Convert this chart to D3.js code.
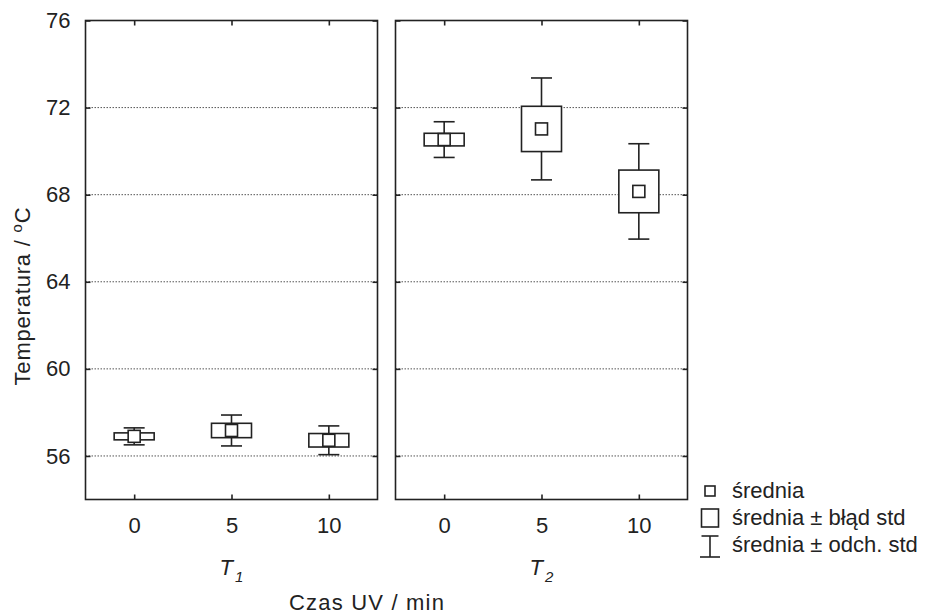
<!DOCTYPE html>
<html>
<head>
<meta charset="utf-8">
<script src="https://cdn.jsdelivr.net/npm/d3@7"></script>
<style>
    body { margin: 0; background: #fff; }
    text { font-family: "Liberation Sans", Arial, sans-serif; fill: #222; }
</style>
</head>
<body>
<script>
(function(){

//data
var groups = ["1", "2"];                //T1, T2 panels
var times = ["0", "5", "10"];           //Czas UV / min
var meanT1 = [56.90, 57.17, 56.72];
var seT1 = [0.16, 0.33, 0.31];
var sdT1 = [0.39, 0.71, 0.66];
var meanT2 = [70.53, 71.02, 68.15];
var seT2 = [0.29, 1.04, 0.98];
var sdT2 = [0.82, 2.34, 2.19];
var yTicks = [56, 60, 64, 68, 72, 76];
var legendLabels = ["średnia", "średnia \u00B1 błąd std", "średnia \u00B1 odch. std"];

window.onload = setChart();

function setChart(){

    var width = 929,
        height = 616;

    //panel frame
    var top = 20.5,
        bottom = 499.5,
        panelW = 292,
        panelX = [85.5, 395.5];

    var ink = "#222";

    var svg = d3.select("body")
        .append("svg")
        .attr("width", width)
        .attr("height", height);

    var y = d3.scaleLinear()
        .domain([54, 76])
        .range([bottom, top]);

    var x = d3.scalePoint()
        .domain(times)
        .range([0, panelW])
        .padding(0.5);

    var panelData = [
        {name: groups[0], mean: meanT1, se: seT1, sd: sdT1},
        {name: groups[1], mean: meanT2, se: seT2, sd: sdT2}
    ];

    panelData.forEach(function(p, i){
        var g = svg.append("g")
            .attr("transform", "translate(" + panelX[i] + ",0)");

        //dotted grid
        g.selectAll(".grid")
            .data(yTicks.filter(function(v){ return v < 76; }))
            .enter()
            .append("line")
            .attr("class", "grid")
            .attr("x1", 0)
            .attr("x2", panelW)
            .attr("y1", function(d){ return y(d); })
            .attr("y2", function(d){ return y(d); })
            .attr("stroke", "#555")
            .attr("stroke-width", 1)
            .attr("stroke-dasharray", "1.5,1.5");

        //axes with inward ticks
        var bottomAxis = g.append("g")
            .attr("transform", "translate(0," + bottom + ")")
            .call(d3.axisBottom(x).tickSize(-5).tickPadding(18));
        var topAxis = g.append("g")
            .attr("transform", "translate(0," + top + ")")
            .call(d3.axisTop(x).tickSize(-5).tickFormat(""));
        var leftAxis = g.append("g")
            .call(d3.axisLeft(y).tickValues(yTicks).tickSize(-5).tickPadding(15));
        var rightAxis = g.append("g")
            .attr("transform", "translate(" + panelW + ",0)")
            .call(d3.axisRight(y).tickValues(yTicks).tickSize(-5).tickFormat(""));

        [bottomAxis, topAxis, leftAxis, rightAxis].forEach(function(a){
            a.select(".domain").remove();
            a.selectAll("line").attr("stroke", ink).attr("stroke-width", 1.6);
            a.selectAll("text").style("font-size", "22px").attr("fill", ink);
        });
        if (i == 1) leftAxis.selectAll("text").remove();

        //frame
        g.append("rect")
            .attr("x", 0)
            .attr("y", top)
            .attr("width", panelW)
            .attr("height", bottom - top)
            .attr("fill", "none")
            .attr("stroke", ink)
            .attr("stroke-width", 1.6);

        var rows = times.map(function(t, k){
            return {t: t, mean: p.mean[k], se: p.se[k], sd: p.sd[k]};
        });

        var marks = g.selectAll(".mark")
            .data(rows)
            .enter()
            .append("g")
            .attr("class", "mark")
            .attr("transform", function(d){ return "translate(" + x(d.t) + ",0)"; });

        //whisker: mean +- sd
        marks.append("line")
            .attr("x1", 0).attr("x2", 0)
            .attr("y1", function(d){ return y(d.mean + d.sd); })
            .attr("y2", function(d){ return y(d.mean - d.sd); })
            .attr("stroke", ink).attr("stroke-width", 1.6);
        marks.append("line")
            .attr("x1", -10.5).attr("x2", 10.5)
            .attr("y1", function(d){ return y(d.mean + d.sd); })
            .attr("y2", function(d){ return y(d.mean + d.sd); })
            .attr("stroke", ink).attr("stroke-width", 1.6);
        marks.append("line")
            .attr("x1", -10.5).attr("x2", 10.5)
            .attr("y1", function(d){ return y(d.mean - d.sd); })
            .attr("y2", function(d){ return y(d.mean - d.sd); })
            .attr("stroke", ink).attr("stroke-width", 1.6);

        //box: mean +- se
        marks.append("rect")
            .attr("x", -20)
            .attr("width", 40)
            .attr("y", function(d){ return y(d.mean + d.se); })
            .attr("height", function(d){ return y(d.mean - d.se) - y(d.mean + d.se); })
            .attr("fill", "#fff")
            .attr("stroke", ink).attr("stroke-width", 1.6);

        //mean marker
        marks.append("rect")
            .attr("x", -6)
            .attr("width", 12)
            .attr("y", function(d){ return y(d.mean) - 6; })
            .attr("height", 12)
            .attr("fill", "#fff")
            .attr("stroke", ink).attr("stroke-width", 1.6);

        //group label T1 / T2
        var lab = svg.append("text")
            .attr("x", panelX[i] + x("5"))
            .attr("y", 575)
            .attr("text-anchor", "middle")
            .style("font-size", "22px")
            .style("font-style", "italic");
        lab.append("tspan").text("T");
        lab.append("tspan")
            .attr("dx", 2)
            .attr("dy", 7)
            .style("font-size", "15px")
            .text(p.name);
    });

    //axis titles
    svg.append("text")
        .attr("x", 367)
        .attr("y", 610)
        .attr("text-anchor", "middle")
        .style("font-size", "22px")
        .style("letter-spacing", "1.2px")
        .text("Czas UV / min");

    var yt = svg.append("text")
        .attr("transform", "translate(30,296) rotate(-90)")
        .attr("text-anchor", "middle")
        .style("font-size", "22px")
        .style("letter-spacing", "0.8px");
    yt.append("tspan").text("Temperatura / ");
    yt.append("tspan").attr("dy", -8).style("font-size", "15px").text("o");
    yt.append("tspan").attr("dy", 8).text("C");

    //legend
    var legend = svg.append("g")
        .attr("transform", "translate(710,0)");
    var rowY = [491, 518, 545];

    legend.append("rect")
        .attr("x", -5).attr("y", rowY[0] - 5)
        .attr("width", 10).attr("height", 10)
        .attr("fill", "#fff").attr("stroke", ink).attr("stroke-width", 1.6);
    legend.append("rect")
        .attr("x", -8.5).attr("y", rowY[1] - 9)
        .attr("width", 17).attr("height", 18)
        .attr("fill", "#fff").attr("stroke", ink).attr("stroke-width", 1.6);
    legend.append("line")
        .attr("x1", 0).attr("x2", 0)
        .attr("y1", rowY[2] - 9).attr("y2", rowY[2] + 12)
        .attr("stroke", ink).attr("stroke-width", 1.6);
    legend.append("line")
        .attr("x1", -8.5).attr("x2", 8.5)
        .attr("y1", rowY[2] - 9).attr("y2", rowY[2] - 9)
        .attr("stroke", ink).attr("stroke-width", 1.6);
    legend.append("line")
        .attr("x1", -10).attr("x2", 10)
        .attr("y1", rowY[2] + 12).attr("y2", rowY[2] + 12)
        .attr("stroke", ink).attr("stroke-width", 1.6);

    legend.selectAll(".leg")
        .data(legendLabels)
        .enter()
        .append("text")
        .attr("class", "leg")
        .attr("x", 22)
        .attr("y", function(d, k){ return rowY[k] + 7; })
        .style("font-size", "22px")
        .text(function(d){ return d; });
};

})();
</script>
</body>
</html>
